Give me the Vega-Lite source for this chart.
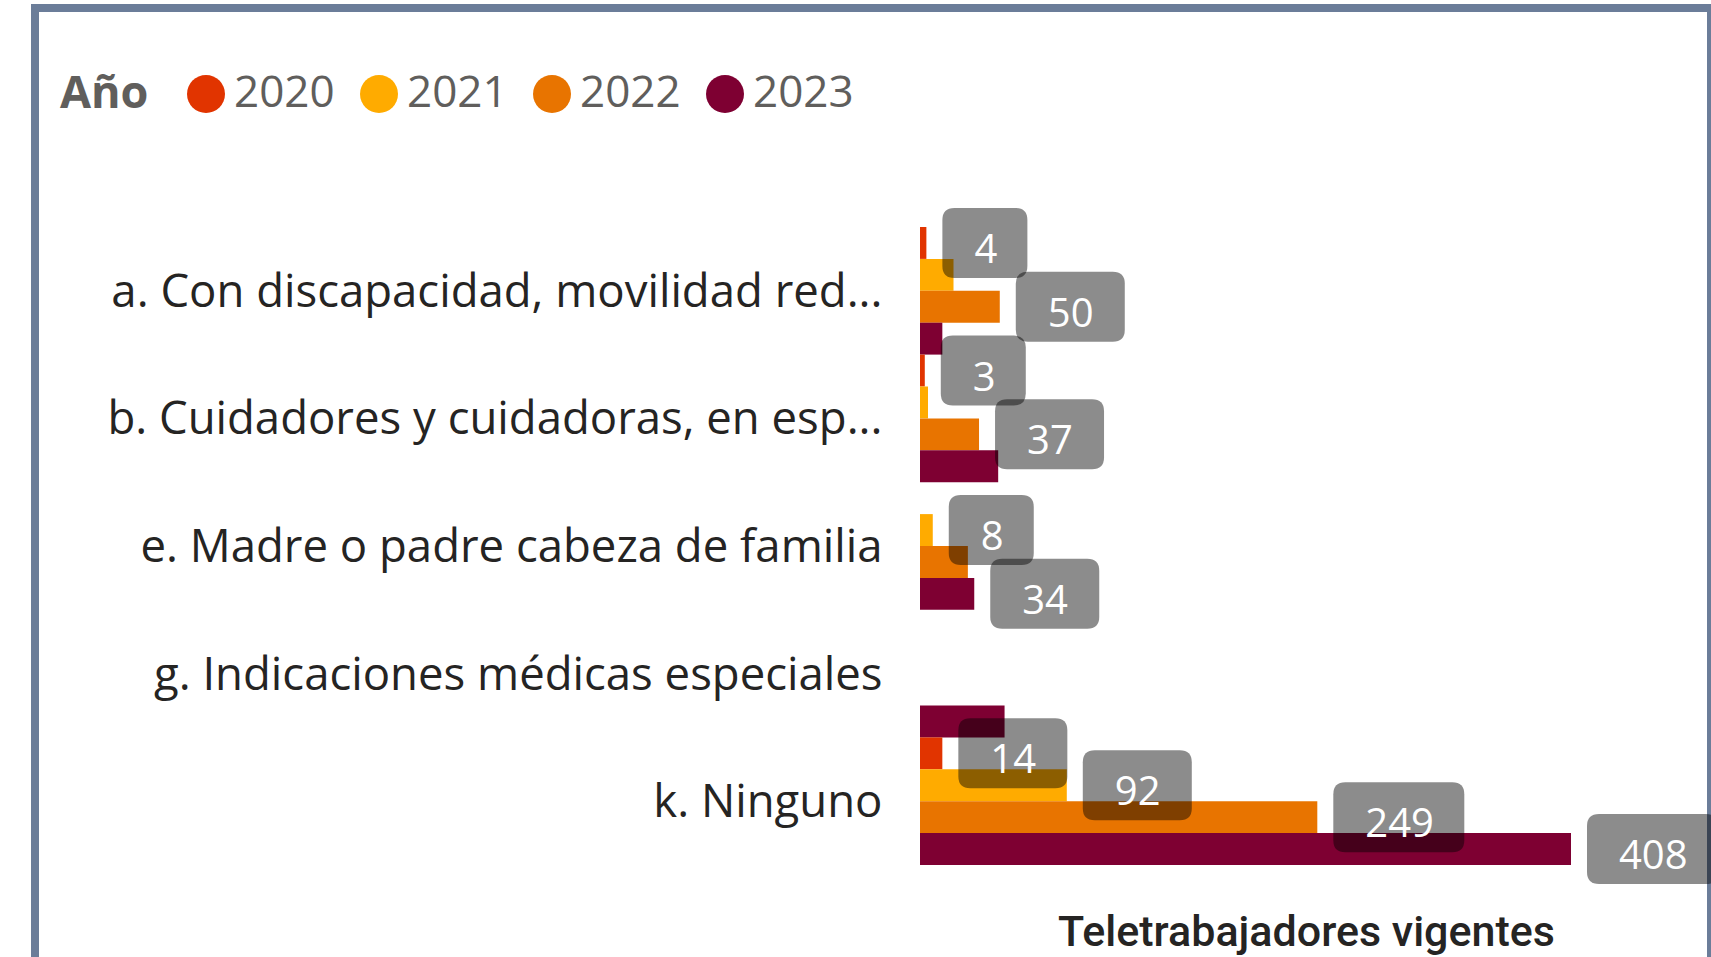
{
  "$schema": "https://vega.github.io/schema/vega-lite/v6.json",
  "width": 1676,
  "height": 949,
  "autosize": {"type": "none"},
  "padding": {"left": 35, "top": 8, "right": 0, "bottom": 0},
  "background": "white",
  "config": {
    "view": {"stroke": "#6B7D99", "strokeWidth": 8, "strokeDash": [2625, 1676, 949]},
    "axis": {"grid": false}
  },
  "datasets": {
    "bars": [
      {"categoria": "a. Con discapacidad, movilidad red...", "anio": "2020", "valor": 4},
      {"categoria": "a. Con discapacidad, movilidad red...", "anio": "2021", "valor": 21},
      {"categoria": "a. Con discapacidad, movilidad red...", "anio": "2022", "valor": 50},
      {"categoria": "a. Con discapacidad, movilidad red...", "anio": "2023", "valor": 14},
      {"categoria": "b. Cuidadores y cuidadoras, en esp...", "anio": "2020", "valor": 3},
      {"categoria": "b. Cuidadores y cuidadoras, en esp...", "anio": "2021", "valor": 5},
      {"categoria": "b. Cuidadores y cuidadoras, en esp...", "anio": "2022", "valor": 37},
      {"categoria": "b. Cuidadores y cuidadoras, en esp...", "anio": "2023", "valor": 49},
      {"categoria": "e. Madre o padre cabeza de familia", "anio": "2021", "valor": 8},
      {"categoria": "e. Madre o padre cabeza de familia", "anio": "2022", "valor": 30},
      {"categoria": "e. Madre o padre cabeza de familia", "anio": "2023", "valor": 34},
      {"categoria": "g. Indicaciones médicas especiales", "anio": "2023", "valor": 53},
      {"categoria": "k. Ninguno", "anio": "2020", "valor": 14},
      {"categoria": "k. Ninguno", "anio": "2021", "valor": 92},
      {"categoria": "k. Ninguno", "anio": "2022", "valor": 249},
      {"categoria": "k. Ninguno", "anio": "2023", "valor": 408}
    ],
    "labels": [
      {"categoria": "a. Con discapacidad, movilidad red...", "anio": "2020", "valor": 4},
      {"categoria": "a. Con discapacidad, movilidad red...", "anio": "2022", "valor": 50},
      {"categoria": "b. Cuidadores y cuidadoras, en esp...", "anio": "2020", "valor": 3},
      {"categoria": "b. Cuidadores y cuidadoras, en esp...", "anio": "2022", "valor": 37},
      {"categoria": "e. Madre o padre cabeza de familia", "anio": "2021", "valor": 8},
      {"categoria": "e. Madre o padre cabeza de familia", "anio": "2023", "valor": 34},
      {"categoria": "k. Ninguno", "anio": "2020", "valor": 14},
      {"categoria": "k. Ninguno", "anio": "2021", "valor": 92},
      {"categoria": "k. Ninguno", "anio": "2022", "valor": 249},
      {"categoria": "k. Ninguno", "anio": "2023", "valor": 408}
    ]
  },
  "layer": [
    {
      "data": {"name": "bars"},
      "mark": {"type": "bar"},
      "encoding": {
        "y": {
          "field": "categoria",
          "type": "nominal",
          "sort": ["a. Con discapacidad, movilidad red...", "b. Cuidadores y cuidadoras, en esp...", "e. Madre o padre cabeza de familia", "g. Indicaciones médicas especiales", "k. Ninguno"],
          "scale": {"range": [219, 857], "paddingInner": 0, "paddingOuter": 0},
          "axis": {
            "title": null,
            "ticks": false,
            "tickSize": 0,
            "domain": false,
            "labelPadding": -847,
            "labelOffset": 2,
            "labelAlign": "right",
            "labelBaseline": "middle",
            "labelLimit": 0,
            "labelFont": "Open Sans",
            "labelFontSize": 45.5,
            "labelColor": "#252423"
          }
        },
        "yOffset": {
          "field": "anio",
          "type": "nominal",
          "sort": ["2020", "2021", "2022", "2023"],
          "scale": {"paddingInner": 0, "paddingOuter": 0}
        },
        "x": {
          "field": "valor",
          "type": "quantitative",
          "scale": {"domain": [0, 408], "range": [885, 1536], "nice": false},
          "axis": {
            "orient": "top",
            "title": "Teletrabajadores vigentes",
            "labels": false,
            "ticks": false,
            "domain": false,
            "titleX": 1271,
            "titleY": 937,
            "titleAlign": "center",
            "titleBaseline": "alphabetic",
            "titleFont": "Roboto",
            "titleFontSize": 43,
            "titleFontWeight": 500,
            "titleColor": "#252423"
          }
        },
        "color": {
          "field": "anio",
          "type": "nominal",
          "scale": {"domain": ["2020", "2021", "2022", "2023"], "range": ["#E13400", "#FFAB00", "#E87400", "#7E0032"]},
          "legend": {
            "orient": "none",
            "legendX": 25,
            "legendY": 64,
            "direction": "horizontal",
            "title": "Año",
            "titleOrient": "left",
            "titleBaseline": "middle",
            "titleFont": "Open Sans",
            "titleFontSize": 45,
            "titleFontWeight": "bold",
            "titleColor": "#605E5C",
            "titlePadding": 35,
            "labelFont": "Open Sans",
            "labelFontSize": 44,
            "labelColor": "#605E5C",
            "labelOffset": 6,
            "columnPadding": 22,
            "padding": 0,
            "symbolType": "circle",
            "symbolSize": 1444,
            "symbolStrokeWidth": 0,
            "symbolOpacity": 1
          }
        }
      }
    },
    {
      "data": {"name": "labels"},
      "mark": {"type": "point", "filled": true, "fill": "black", "fillOpacity": 0.45, "opacity": 1, "strokeWidth": 0, "size": 4},
      "encoding": {
        "y": {"field": "categoria", "type": "nominal"},
        "yOffset": {"field": "anio", "type": "nominal"},
        "x": {"field": "valor", "type": "quantitative"},
        "shape": {
          "condition": [
            {"test": "datum.valor < 10", "value": "M28,-35L89,-35Q101,-35 101,-23L101,23Q101,35 89,35L28,35Q16,35 16,23L16,-23Q16,-35 28,-35Z"},
            {"test": "datum.valor < 100", "value": "M28,-35L113,-35Q125,-35 125,-23L125,23Q125,35 113,35L28,35Q16,35 16,23L16,-23Q16,-35 28,-35Z"}
          ],
          "value": "M28,-35L135,-35Q147,-35 147,-23L147,23Q147,35 135,35L28,35Q16,35 16,23L16,-23Q16,-35 28,-35Z"
        }
      }
    },
    {
      "data": {"name": "labels"},
      "mark": {"type": "text", "align": "left", "baseline": "middle", "dx": 48, "dy": 8, "font": "Open Sans", "fontSize": 40, "fill": "white"},
      "encoding": {
        "y": {"field": "categoria", "type": "nominal"},
        "yOffset": {"field": "anio", "type": "nominal"},
        "x": {"field": "valor", "type": "quantitative"},
        "text": {"field": "valor", "type": "quantitative"}
      }
    }
  ]
}
